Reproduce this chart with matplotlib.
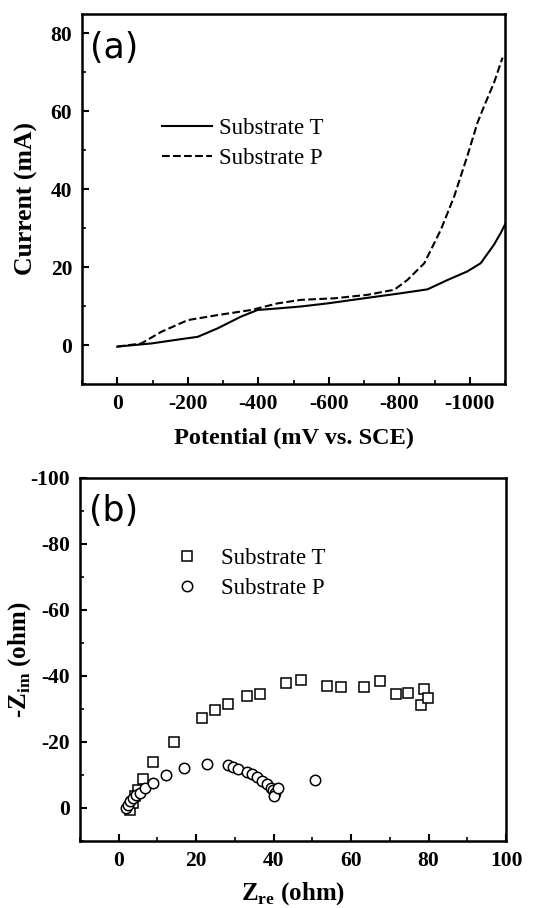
import matplotlib
matplotlib.use('Agg')
import matplotlib.pyplot as plt
from matplotlib.ticker import MultipleLocator

plt.rcParams['font.family'] = ['Liberation Serif', 'DejaVu Serif']
plt.rcParams['mathtext.fontset'] = 'custom'
plt.rcParams['mathtext.rm'] = 'Liberation Serif:bold'
plt.rcParams['axes.unicode_minus'] = False

# (a) polarisation curves
pot_t = [0, -96, -195, -228, -285, -351, -398, -455, -521, -597, -700, -805,
         -880, -937, -993, -1031, -1069, -1088, -1102]
cur_t = [-0.4, 0.4, 1.7, 2.1, 4.3, 7.3, 9.0, 9.4, 9.9, 10.7, 12.0, 13.3,
         14.3, 16.7, 18.9, 21.0, 25.8, 28.8, 31.3]
pot_p = [0, -68, -125, -200, -285, -380, -455, -521, -616, -710, -786, -823,
         -871, -918, -956, -993, -1022, -1041, -1069, -1093]
cur_p = [-0.4, 0.4, 3.4, 6.4, 7.7, 9.0, 10.7, 11.6, 12.0, 12.9, 14.2, 16.7,
         21.0, 29.6, 38.2, 48.5, 57.1, 61.4, 67.4, 73.8]

# (b) Nyquist plots
zre_t = [3.0, 3.6, 4.2, 5.0, 6.3, 8.9, 14.2, 21.4, 24.8, 28.1, 33.0, 36.4,
         43.1, 47.0, 53.7, 57.3, 63.4, 67.4, 71.7, 74.6, 78.0, 78.9, 79.8]
zim_t = [0.5, -1.5, -3.5, -5.5, -8.9, -14.0, -20.0, -27.3, -29.6, -31.6,
         -34.0, -34.6, -37.9, -38.7, -37.1, -36.7, -36.7, -38.4, -34.4,
         -34.7, -31.2, -36.1, -33.2]
zre_p = [2.0, 2.4, 2.8, 3.7, 4.5, 5.4, 6.7, 8.9, 12.3, 16.8, 22.9, 28.1,
         29.5, 30.9, 33.0, 34.3, 35.6, 36.9, 38.2, 39.2, 39.9, 40.4, 40.0,
         41.0, 50.6]
zim_p = [0.0, -1.0, -2.0, -3.0, -3.8, -4.6, -6.1, -7.6, -9.9, -12.1, -13.4,
         -13.0, -12.3, -11.9, -10.9, -10.3, -9.3, -8.3, -7.3, -6.1, -5.3,
         -4.5, -3.5, -6.1, -8.4]

fig = plt.figure(figsize=(5.59, 9.08), dpi=100)
ax1 = fig.add_axes([0.1467, 0.5771, 0.7567, 0.4075])
ax2 = fig.add_axes([0.1431, 0.0738, 0.7621, 0.3998])

ax1.plot(pot_t, cur_t, 'k-', lw=1.5, label='Substrate T')
ax1.plot(pot_p, cur_p, 'k--', lw=1.5, label='Substrate P')
ax1.set_xlim(100, -1100)
ax1.set_ylim(-10, 85)
ax1.set_xticks([0, -200, -400, -600, -800, -1000])
ax1.set_yticks([0, 20, 40, 60, 80])
ax1.xaxis.set_minor_locator(MultipleLocator(100))
ax1.yaxis.set_minor_locator(MultipleLocator(10))
ax1.set_xlabel('Potential (mV vs. SCE)', fontsize=17.5, fontweight='bold', labelpad=10)
ax1.set_ylabel('Current (mA)', fontsize=18.5, fontweight='bold', labelpad=9)
ax1.legend(loc='upper left', bbox_to_anchor=(0.14, 0.775), frameon=False,
           fontsize=16.5, handlelength=2.2, handletextpad=0.3, labelspacing=0.4)
ax1.text(0.02, 0.955, '(a)', transform=ax1.transAxes, fontsize=25,
         family='DejaVu Sans', va='top')

ax2.plot(zre_t, zim_t, 's', ms=7, mfc='white', mec='black', mew=1.1,
         ls='none', label='Substrate T')
ax2.plot(zre_p, zim_p, 'o', ms=7.5, mfc='white', mec='black', mew=1.1,
         ls='none', label='Substrate P')
ax2.set_xlim(-10, 100)
ax2.set_ylim(10, -100)
ax2.set_xticks([0, 20, 40, 60, 80, 100])
ax2.set_yticks([0, -20, -40, -60, -80, -100])
ax2.xaxis.set_minor_locator(MultipleLocator(10))
ax2.yaxis.set_minor_locator(MultipleLocator(10))
ax2.set_xlabel(r'Z$_\mathregular{re}$ (ohm)', fontsize=18, fontweight='bold', labelpad=7)
ax2.set_ylabel(r'-Z$_\mathregular{im}$ (ohm)', fontsize=18, fontweight='bold', labelpad=-2)
ax2.legend(loc='upper left', bbox_to_anchor=(0.17, 0.865), frameon=False,
           fontsize=16.5, handlelength=1.2, handletextpad=0.9, labelspacing=0.4)
ax2.text(0.02, 0.955, '(b)', transform=ax2.transAxes, fontsize=25,
         family='DejaVu Sans', va='top')

for ax in (ax1, ax2):
    for sp in ax.spines.values():
        sp.set_linewidth(1.8)
    ax.tick_params(which='major', direction='in', length=5, width=1.5,
                   labelsize=15.5, pad=7, top=False, right=False)
    ax.tick_params(which='minor', direction='in', length=3, width=1.2,
                   top=False, right=False)
    for lab in ax.get_xticklabels() + ax.get_yticklabels():
        lab.set_fontweight('bold')

fig.savefig('out.png', dpi=100)
